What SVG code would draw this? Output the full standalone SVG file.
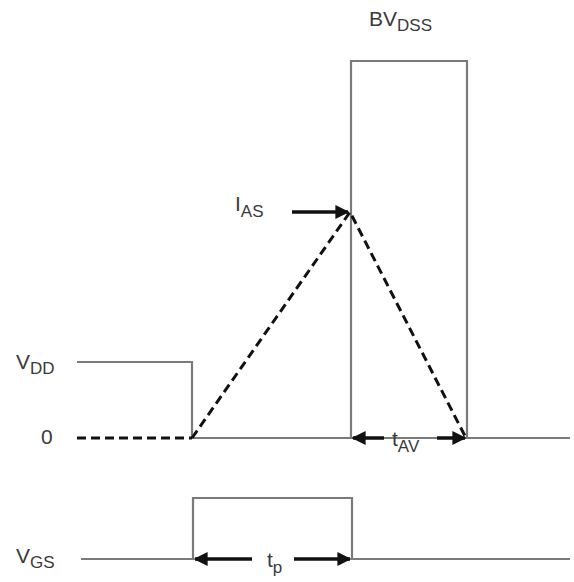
<svg xmlns="http://www.w3.org/2000/svg" width="574" height="582" viewBox="0 0 574 582">
<style>
.w{fill:none;stroke:#7a7a7a;stroke-width:2.2}
.d{fill:none;stroke:#111;stroke-width:3;stroke-dasharray:9 5}
.a{fill:none;stroke:#111;stroke-width:3.5}
.t{font-family:"Liberation Sans",Arial,sans-serif;font-size:21px;fill:#3a3a3a}
.s{font-size:17px}
</style>
<defs>
<marker id="ah" viewBox="0 0 10 10" refX="9" refY="5" markerWidth="4" markerHeight="4" orient="auto-start-reverse" markerUnits="strokeWidth">
<path d="M0,0 L10,5 L0,10 z" fill="#111"/>
</marker>
</defs>
<rect width="574" height="582" fill="#fff"/>
<g id="waveforms">
<path class="w" d="M77,362 H192 V438 H570"/>
<path class="w" d="M351,438 V61 H467 V438"/>
<path class="w" d="M81,559 H193 V498 H352 V559 H570"/>
</g>
<g id="connectors">
<path class="d" d="M77,438 H192"/>
<path class="d" d="M192,438 L350,212 L466,438"/>
<path class="a" d="M292,212 H348" marker-end="url(#ah)"/>
<path class="a" d="M384,438 H353" marker-end="url(#ah)"/>
<path class="a" d="M437,438 H465" marker-end="url(#ah)"/>
<path class="a" d="M252,559 H195" marker-end="url(#ah)"/>
<path class="a" d="M294,559 H350" marker-end="url(#ah)"/>
</g>
<g id="labels">
<text class="t" x="369" y="26">BV<tspan class="s" dy="5">DSS</tspan></text>
<text class="t" x="235" y="211">I<tspan class="s" dy="6">AS</tspan></text>
<text class="t" x="16" y="369">V<tspan class="s" dy="5">DD</tspan></text>
<text class="t" x="41" y="444">0</text>
<text class="t" x="392" y="446">t<tspan class="s" dy="6">AV</tspan></text>
<text class="t" x="16" y="563">V<tspan class="s" dy="5">GS</tspan></text>
<text class="t" x="267" y="567">t<tspan class="s" dy="6">p</tspan></text>
</g>
</svg>
